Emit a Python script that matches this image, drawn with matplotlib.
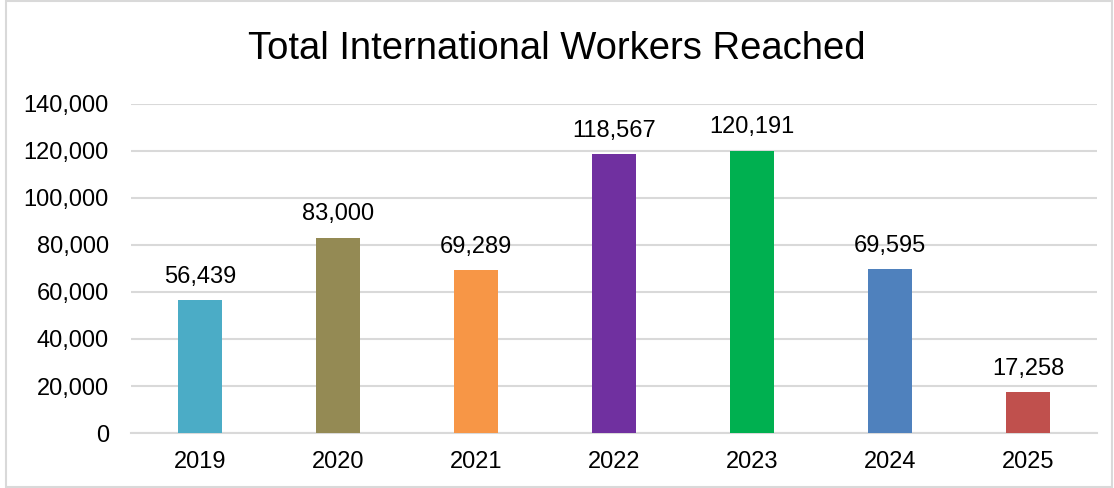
import matplotlib.pyplot as plt
from matplotlib.ticker import FuncFormatter

plt.rcParams['font.family'] = ['Liberation Sans', 'DejaVu Sans']

years = ['2019', '2020', '2021', '2022', '2023', '2024', '2025']
workers = [56439, 83000, 69289, 118567, 120191, 69595, 17258]
colors = ['#4BACC6', '#948A54', '#F79646', '#7030A0', '#00B050', '#4F81BD', '#C0504D']

fig = plt.figure(figsize=(11.14, 4.88), dpi=100)
ax = fig.add_axes([0.1176, 0.1127, 0.8671, 0.6742])

x = range(len(years))
bars = ax.bar(x, workers, width=0.32, color=colors, zorder=3)
for b, v in zip(bars, workers):
    ax.annotate(f'{v:,}', (b.get_x() + b.get_width() / 2, v),
                xytext=(0, 9), textcoords='offset points',
                ha='center', va='bottom', fontsize=17)

ax.set_xticks(list(x))
ax.set_xticklabels(years)
ax.set_xlim(-0.5, len(years) - 0.5)
ax.set_ylim(0, 140000)
ax.set_yticks(range(0, 140001, 20000))
ax.yaxis.set_major_formatter(FuncFormatter(lambda v, p: f'{int(v):,}'))
ax.tick_params(axis='y', labelsize=17, length=0, pad=16)
ax.tick_params(axis='x', labelsize=17, length=0, pad=13)
ax.grid(axis='y', color='#D9D9D9', linewidth=1.5, zorder=0)
for s in ['top', 'right', 'left']:
    ax.spines[s].set_visible(False)
ax.spines['bottom'].set_color('#D9D9D9')
ax.spines['bottom'].set_linewidth(1.5)

fig.text(0.5, 0.90, 'Total International Workers Reached', ha='center',
         va='center', fontsize=27.5)

fig.patches.append(plt.Rectangle((0.005, 0.002), 0.993, 0.995, transform=fig.transFigure,
                                 fill=False, edgecolor='#D9D9D9', linewidth=1.5))

fig.savefig('out.png', dpi=100)
